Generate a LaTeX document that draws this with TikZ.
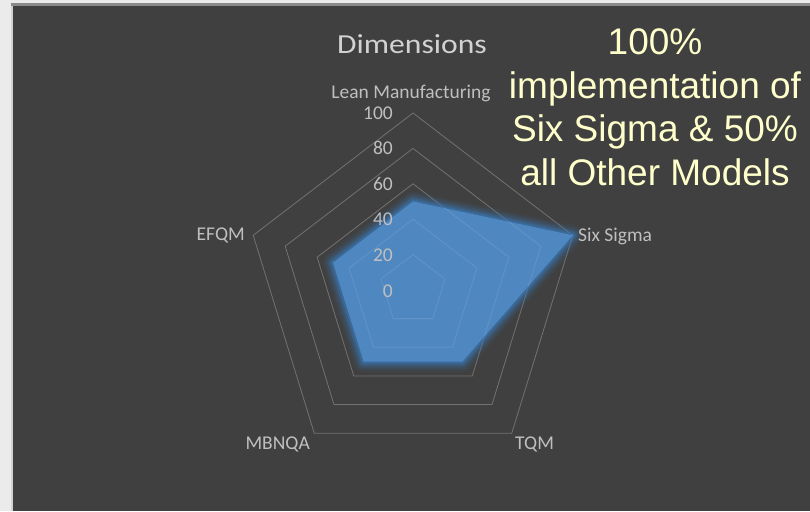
\documentclass[tikz,border=0pt]{standalone}
\usepackage{fontspec}
\setmainfont{Carlito}
\newfontfamily\arialf{Liberation Sans}
\usepackage{graphicx}
\definecolor{bgc}{HTML}{404040}
\definecolor{pagec}{HTML}{EBEBEB}
\definecolor{leftedge}{HTML}{D2D2D2}
\definecolor{topedge}{HTML}{8A8A8A}
\definecolor{ringc}{HTML}{727272}
\definecolor{fillc}{HTML}{4F88C0}
\definecolor{glowc}{HTML}{3A78B6}
\definecolor{labc}{HTML}{BFBFBF}
\definecolor{ttlc}{HTML}{D2D2D2}
\definecolor{notec}{HTML}{FFFFCC}
\begin{document}
\begin{tikzpicture}[x=1pt,y=-1pt,
  ring/.style={draw=ringc, line width=0.8pt, line join=miter},
  catlab/.style={text=labc, font=\fontsize{19.5}{21}\selectfont, inner sep=0pt},
  numlab/.style={text=labc, font=\fontsize{19.5}{21}\selectfont, inner sep=0pt, anchor=base east},
  notetext/.style={text=notec, font=\arialf\fontsize{37}{40}\selectfont, inner sep=0pt, anchor=base}]
\useasboundingbox (0,0) rectangle (810,511);
\fill[pagec] (0,0) rectangle (810,511);
\fill[leftedge] (11,3) rectangle (13,511);
\fill[topedge] (11,3) rectangle (810,6);
\fill[bgc] (13,6) rectangle (810,511);

% grid rings
\foreach \l in {20,40,60,80,100}{
  \draw[ring] ({413+1.68*\l*cos(90)},{290-1.77*\l*sin(90)})
    -- ({413+1.68*\l*cos(18)},{290-1.77*\l*sin(18)})
    -- ({413+1.68*\l*cos(-54)},{290-1.77*\l*sin(-54)})
    -- ({413+1.68*\l*cos(-126)},{290-1.77*\l*sin(-126)})
    -- ({413+1.68*\l*cos(162)},{290-1.77*\l*sin(162)}) -- cycle;
}

% data points
\coordinate (pL) at ({413+1.68*50*cos(90)},{290-1.77*50*sin(90)});
\coordinate (pS) at ({413+1.68*100*cos(18)},{290-1.77*100*sin(18)});
\coordinate (pT) at ({413+1.68*50*cos(-54)},{290-1.77*50*sin(-54)});
\coordinate (pM) at ({413+1.68*50*cos(-126)},{290-1.77*50*sin(-126)});
\coordinate (pE) at ({413+1.68*50*cos(162)},{290-1.77*50*sin(162)});

% glow
\foreach \w/\o in {20/0.08,16/0.12,12/0.18,8/0.3,4/0.5}{
  \draw[glowc, line width=\w pt, opacity=\o, line join=round] (pL) -- (pS) -- (pT) -- (pM) -- (pE) -- cycle;
}
% fill
\fill[fillc] (pL) -- (pS) -- (pT) -- (pM) -- (pE) -- cycle;
\begin{scope}
\clip (pL) -- (pS) -- (pT) -- (pM) -- (pE) -- cycle;
\foreach \l in {20,40,60,80,100}{
  \draw[draw=white, opacity=0.1, line width=0.8pt] ({413+1.68*\l*cos(90)},{290-1.77*\l*sin(90)})
    -- ({413+1.68*\l*cos(18)},{290-1.77*\l*sin(18)})
    -- ({413+1.68*\l*cos(-54)},{290-1.77*\l*sin(-54)})
    -- ({413+1.68*\l*cos(-126)},{290-1.77*\l*sin(-126)})
    -- ({413+1.68*\l*cos(162)},{290-1.77*\l*sin(162)}) -- cycle;
}
\end{scope}

% axis numbers
\foreach \v [count=\i from 0] in {0,20,40,60,80,100}{
  \node[numlab] (n\v) at (393,{297-35.6*\i}) {\v};
}

% title and category labels
\node[text=ttlc, font=\fontsize{27.5}{30}\selectfont, inner sep=0pt, anchor=base] (title) at (412,53) {\scalebox{1.15}[1]{Dimensions}};
\node[catlab, anchor=base] (lean) at (411,98) {Lean Manufacturing};
\node[catlab, anchor=base west] (six) at (578,241) {Six Sigma};
\node[catlab, anchor=base east] (efqm) at (245,240) {EFQM};
\node[catlab, anchor=base east] (mbnqa) at (310,449) {MBNQA};
\node[catlab, anchor=base west] (tqm) at (515,449) {TQM};

% annotation
\node[notetext] (t1) at (655,55) {100\%};
\node[notetext] (t2) at (655,98) {implementation of};
\node[notetext] (t3) at (655,141) {Six Sigma \& 50\%};
\node[notetext] (t4) at (655,185) {all Other Models};
\end{tikzpicture}
\end{document}
